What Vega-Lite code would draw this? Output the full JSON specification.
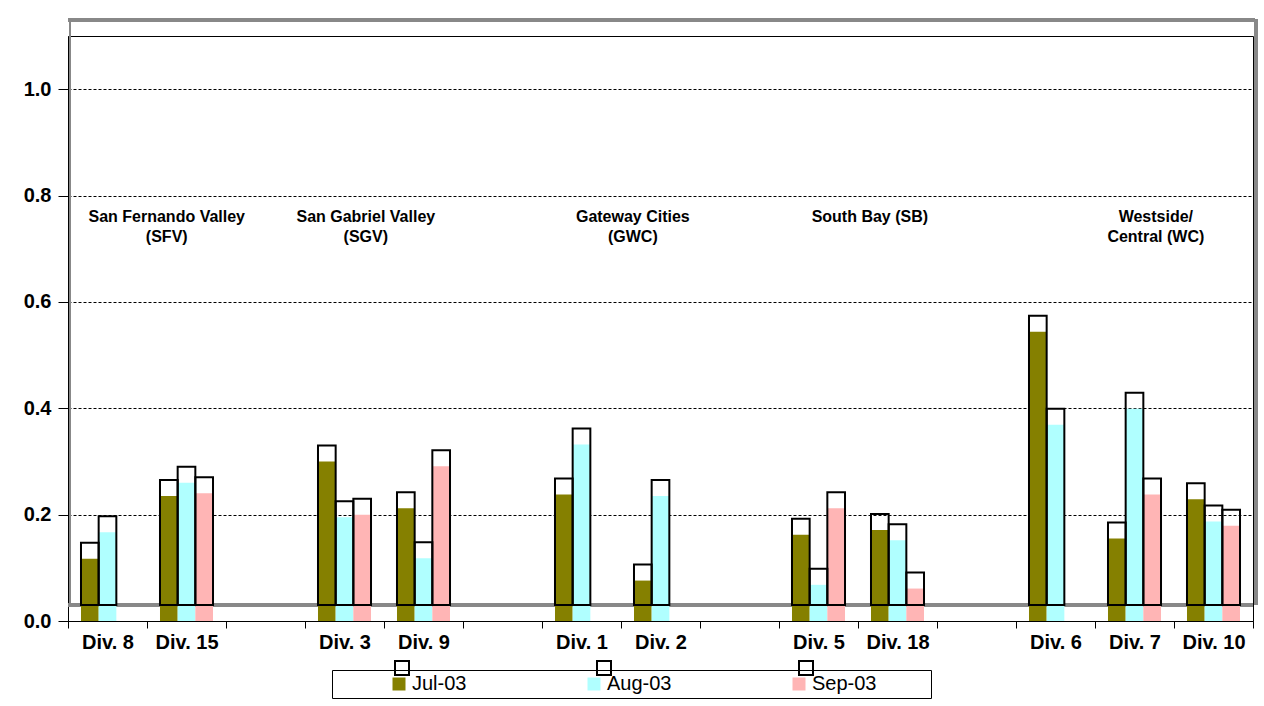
{
  "$schema": "https://vega.github.io/schema/vega-lite/v6.json",
  "width": 1185,
  "height": 585,
  "autosize": "none",
  "padding": {"left": 68, "top": 36, "right": 11, "bottom": 85},
  "background": "white",
  "config": {
    "font": "Liberation Sans",
    "view": {"stroke": "black", "strokeWidth": 1},
    "axis": {
      "labelColor": "black",
      "labelFont": "Liberation Sans",
      "labelFontSize": 20,
      "labelFontWeight": "bold",
      "domainColor": "black",
      "tickColor": "black",
      "title": null
    }
  },
  "data": {
    "values": [
      {"div": "Div. 8", "month": "Jul-03", "value": 0.117},
      {"div": "Div. 8", "month": "Aug-03", "value": 0.167},
      {"div": "Div. 15", "month": "Jul-03", "value": 0.235},
      {"div": "Div. 15", "month": "Aug-03", "value": 0.26},
      {"div": "Div. 15", "month": "Sep-03", "value": 0.24},
      {"div": "Div. 3", "month": "Jul-03", "value": 0.3},
      {"div": "Div. 3", "month": "Aug-03", "value": 0.195},
      {"div": "Div. 3", "month": "Sep-03", "value": 0.2},
      {"div": "Div. 9", "month": "Jul-03", "value": 0.212},
      {"div": "Div. 9", "month": "Aug-03", "value": 0.118},
      {"div": "Div. 9", "month": "Sep-03", "value": 0.291},
      {"div": "Div. 1", "month": "Jul-03", "value": 0.238},
      {"div": "Div. 1", "month": "Aug-03", "value": 0.332},
      {"div": "Div. 2", "month": "Jul-03", "value": 0.076},
      {"div": "Div. 2", "month": "Aug-03", "value": 0.235},
      {"div": "Div. 5", "month": "Jul-03", "value": 0.162},
      {"div": "Div. 5", "month": "Aug-03", "value": 0.068},
      {"div": "Div. 5", "month": "Sep-03", "value": 0.212},
      {"div": "Div. 18", "month": "Jul-03", "value": 0.171},
      {"div": "Div. 18", "month": "Aug-03", "value": 0.152},
      {"div": "Div. 18", "month": "Sep-03", "value": 0.061},
      {"div": "Div. 6", "month": "Jul-03", "value": 0.544},
      {"div": "Div. 6", "month": "Aug-03", "value": 0.369},
      {"div": "Div. 7", "month": "Jul-03", "value": 0.155},
      {"div": "Div. 7", "month": "Aug-03", "value": 0.399},
      {"div": "Div. 7", "month": "Sep-03", "value": 0.238},
      {"div": "Div. 10", "month": "Jul-03", "value": 0.229},
      {"div": "Div. 10", "month": "Aug-03", "value": 0.187},
      {"div": "Div. 10", "month": "Sep-03", "value": 0.179}
    ]
  },
  "layer": [
    {
      "mark": {"type": "rule", "color": "#888888", "strokeWidth": 2.5, "yOffset": -16, "xOffset": 2, "x2Offset": 4},
      "encoding": {"y": {"datum": 1.1, "type": "quantitative"}}
    },
    {
      "mark": {"type": "rule", "color": "#888888", "strokeWidth": 2.5, "yOffset": -16, "xOffset": 0, "x2Offset": 4},
      "encoding": {"y": {"datum": 0, "type": "quantitative"}}
    },
    {
      "mark": {"type": "rule", "color": "#888888", "strokeWidth": 3, "yOffset": -16, "y2Offset": -17, "xOffset": 3},
      "encoding": {
        "x": {"datum": "Div. 10", "type": "nominal", "bandPosition": 1},
        "y": {"datum": 0, "type": "quantitative"},
        "y2": {"datum": 1.1}
      }
    },
    {
      "mark": {"type": "rule", "color": "#888888", "strokeWidth": 2, "yOffset": -16, "y2Offset": -17, "xOffset": 2},
      "encoding": {
        "x": {"datum": "Div. 8", "type": "nominal", "bandPosition": 0},
        "y": {"datum": 0, "type": "quantitative"},
        "y2": {"datum": 1.1}
      }
    },
    {
      "mark": {"type": "bar"},
      "encoding": {
        "x": {
          "field": "div",
          "type": "nominal",
          "scale": {
            "domain": ["Div. 8", "Div. 15", "g1", "Div. 3", "Div. 9", "g2", "Div. 1", "Div. 2", "g3", "Div. 5", "Div. 18", "g4", "Div. 6", "Div. 7", "Div. 10"],
            "paddingInner": 0,
            "paddingOuter": 0
          },
          "axis": {
            "labelExpr": "indexof(datum.label, 'Div') == 0 ? datum.label : ''",
            "labelAngle": 0,
            "labelAlign": "center",
            "tickBand": "extent",
            "tickSize": 7,
            "labelPadding": 14,
            "title": null
          }
        },
        "xOffset": {
          "field": "month",
          "type": "nominal",
          "scale": {"domain": ["Jul-03", "Aug-03", "Sep-03"], "paddingInner": 0, "paddingOuter": 0.735}
        },
        "y": {
          "field": "value",
          "type": "quantitative",
          "scale": {"domain": [0, 1.1], "nice": false},
          "axis": {
            "values": [0, 0.2, 0.4, 0.6, 0.8, 1.0],
            "format": ".1f",
            "tickSize": 10,
            "labelPadding": 7,
            "grid": true,
            "gridDash": [3, 2],
            "gridColor": "black",
            "gridWidth": 1,
            "title": null
          }
        },
        "color": {
          "field": "month",
          "type": "nominal",
          "scale": {"domain": ["Jul-03", "Aug-03", "Sep-03"], "range": ["#858000", "#b0ffff", "#ffb5b5"]},
          "legend": {
            "orient": "none",
            "legendX": 264,
            "legendY": 634,
            "direction": "horizontal",
            "title": " ",
            "titleOrient": "left",
            "titlePadding": 53,
            "titleFontSize": 1,
            "padding": 4,
            "strokeColor": "black",
            "fillColor": "white",
            "symbolType": "square",
            "symbolSize": 169,
            "symbolStrokeWidth": 0,
            "labelFontSize": 20,
            "labelFont": "Liberation Sans",
            "labelFontWeight": "normal",
            "labelColor": "black",
            "labelOffset": 3,
            "columnPadding": 117,
            "labelLimit": 400,
            "labelExpr": "datum.label == 'Sep-03' ? 'Sep-03\u00a0\u00a0\u00a0\u00a0\u00a0\u00a0\u00a0\u00a0\u00a0\u200b' : datum.label"
          }
        }
      }
    },
    {
      "mark": {"type": "bar", "fill": "transparent", "strokeWidth": 2, "yOffset": -16, "y2Offset": -16, "xOffset": 2},
      "encoding": {
        "x": {"field": "div", "type": "nominal"},
        "xOffset": {"field": "month", "type": "nominal"},
        "y": {"field": "value", "type": "quantitative"},
        "stroke": {
          "field": "month",
          "type": "nominal",
          "sort": ["Jul-03", "Aug-03", "Sep-03"],
          "scale": {"range": ["black", "black", "black"]},
          "legend": {
            "orient": "none",
            "legendX": 324,
            "legendY": 622,
            "direction": "horizontal",
            "title": null,
            "padding": 0,
            "symbolType": "square",
            "symbolSize": 196,
            "symbolStrokeWidth": 2,
            "symbolFillColor": "white",
            "labelFontSize": 20,
            "labelOffset": 0,
            "columnPadding": 180,
            "labelExpr": "''"
          }
        }
      }
    },
    {
      "data": {"values": [{"div": "Div. 15", "label": "San Fernando Valley\n(SFV)"}]},
      "mark": {"type": "text", "fontSize": 16, "fontWeight": "bold", "align": "center", "baseline": "top", "lineHeight": 20, "lineBreak": "\n", "color": "black"},
      "encoding": {
        "x": {"field": "div", "type": "nominal", "bandPosition": 0.25},
        "y": {"datum": 0.774, "type": "quantitative"},
        "text": {"field": "label"}
      }
    },
    {
      "data": {"values": [{"div": "Div. 2", "label": "Gateway Cities\n(GWC)"}, {"div": "Div. 18", "label": "South Bay (SB)"}]},
      "mark": {"type": "text", "fontSize": 16, "fontWeight": "bold", "align": "center", "baseline": "top", "lineHeight": 20, "lineBreak": "\n", "color": "black"},
      "encoding": {
        "x": {"field": "div", "type": "nominal", "bandPosition": 0.15},
        "y": {"datum": 0.774, "type": "quantitative"},
        "text": {"field": "label"}
      }
    },
    {
      "data": {"values": [{"div": "Div. 3", "label": "San Gabriel Valley\n(SGV)"}, {"div": "Div. 7", "label": "Westside/\nCentral (WC)"}]},
      "mark": {"type": "text", "fontSize": 16, "fontWeight": "bold", "align": "center", "baseline": "top", "lineHeight": 20, "lineBreak": "\n", "color": "black"},
      "encoding": {
        "x": {"field": "div", "type": "nominal", "bandPosition": 0.77},
        "y": {"datum": 0.774, "type": "quantitative"},
        "text": {"field": "label"}
      }
    }
  ]
}
